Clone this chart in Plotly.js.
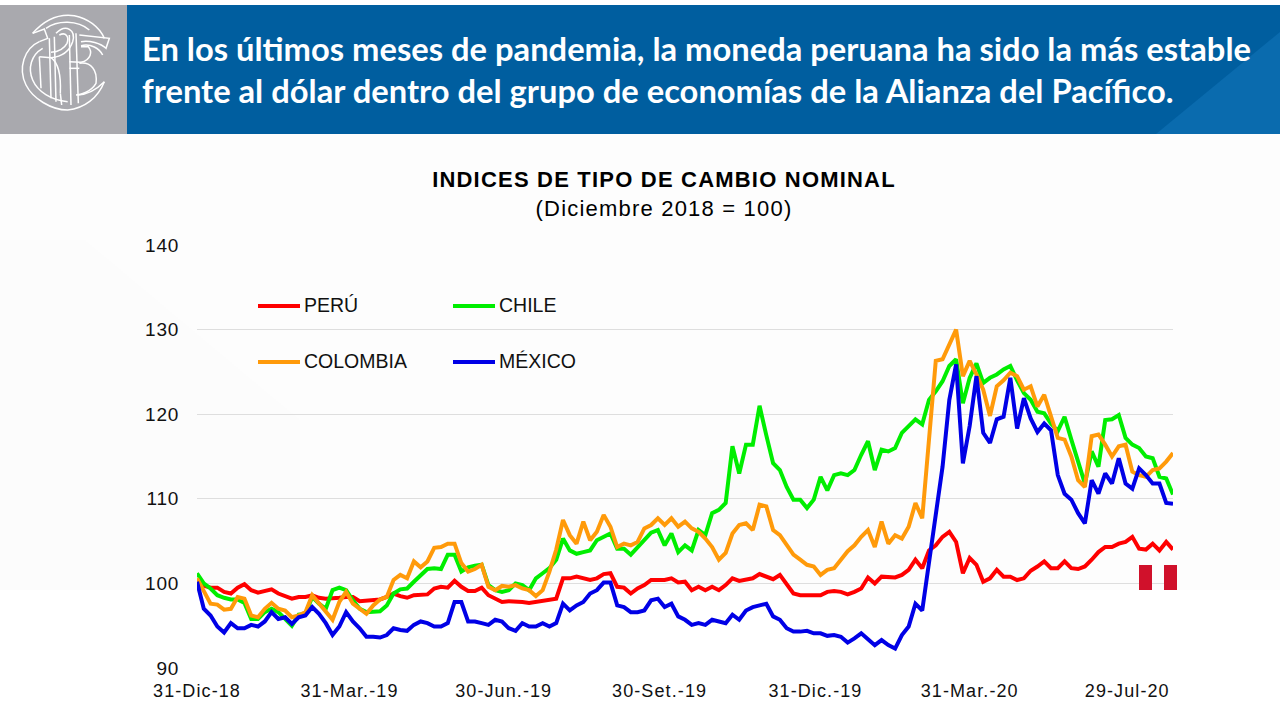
<!DOCTYPE html>
<html>
<head>
<meta charset="utf-8">
<script src="https://cdn.plot.ly/plotly-3.0.1.min.js"></script>
<style>
html,body{margin:0;padding:0;background:#fff}#chart{width:1280px;height:720px}
.xtick text{letter-spacing:1.1px}
.ytick text{letter-spacing:.8px}
.gtitle{letter-spacing:1.2px}
</style>
</head>
<body>
<div id="chart"></div>
<script>
// Index values sampled every 4 calendar days from 31-Dic-18
const peru = [100,99.8,99.5,99.5,99,98.8,99.5,99.9,99.2,98.9,99.1,99.3,98.8,98.5,98.2,98.4,98.4,98.6,98.3,98.2,98.2,98.3,98.4,98.4,97.9,98,98.1,98.1,98.4,98.8,98.5,98.3,98.6,98.7,98.7,99.4,99.6,99.5,100.3,99.6,99.1,99.1,99.5,98.6,98.2,97.8,97.9,
97.9,97.8,97.7,97.8,97.9,98,98.2,100.6,100.6,100.8,100.6,100.4,100.6,101.1,101.2,99.6,99.5,98.8,99.4,99.8,100.4,100.4,100.4,100.6,100.1,100.2,99.2,99.6,99.2,99.6,99.2,99.8,100.6,100.3,100.5,100.6,101.1,100.8,100.5,101,99.8,98.8,98.6,98.6,98.5,98.6,99,
99.1,99,98.7,99,99.4,100.7,100,100.8,100.8,100.7,101,101.6,102.8,101.8,103.9,104.5,105.5,106.1,104.9,101.2,103,102.2,100.2,100.6,101.6,
100.8,100.8,100.4,100.6,101.5,102,102.6,101.8,101.8,102.6,101.8,101.7,102,102.8,103.7,104.3,104.3,104.7,104.9,105.5,104.1,104,104.7,103.9,104.9,104];
const chile = [101.2,100,99.4,98.6,98.3,98.1,98.1,97.7,95.8,95.8,96.6,97,96.6,95.8,95,96.3,96.4,98.4,97.6,97,99.2,99.5,99.2,98,97,96.6,96.6,96.7,97.4,98.8,99.3,99.4,100.2,101,101.7,101.8,101.7,103.4,103.4,101.4,101.9,102.1,102.2,99.8,99.2,99,99.2,
100,99.8,99.2,100.6,101.2,101.8,102.8,105.3,103.9,103.5,103.7,103.9,105.1,105.5,105.9,104.1,104.1,103.4,104.3,105.1,106,106.3,104.5,105.9,103.7,104.5,103.9,106.3,105.7,108.3,108.7,109.5,116.2,113,116.4,116.4,121,117.5,114.2,113.4,111.4,109.9,109.9,108.9,109.9,112.6,111,
112.8,113,112.8,113.4,115.2,116.8,113.4,115.8,115.6,116,117.8,118.6,119.4,118.8,121.7,122.7,123.9,125.7,126.5,121.3,124.3,126,123.7,124.3,124.7,
125.3,125.7,124,122.5,121.7,120.3,120.1,118.9,118,119.7,117,114.2,111.8,115.6,113.8,119.3,119.4,119.9,117.2,116.4,116,115,114.8,112.6,112.4,110.5];
const colombia = [100.6,99.2,97.6,97.5,96.9,97,98.4,98.2,96.2,96,97,97.7,97,96.8,96,96.2,96.6,98.6,97.6,96.6,95.7,97.8,99,97.6,97,96.4,97.4,98.1,98.4,100.4,101,100.6,102.6,101.9,102.6,104.2,104.3,104.7,104.7,102.4,101.4,101.7,102.2,99.6,99.2,99.7,99.6,
99.8,99.4,99.2,98.5,99.2,101.4,104,107.5,105.7,104.7,107.3,105.1,106.1,108.1,106.7,104.3,104.7,104.5,104.9,106.5,106.9,107.7,106.9,107.7,106.7,107.3,106.5,106.1,105.3,104.3,102.8,103.6,105.9,106.9,107.1,106.3,109.3,109.1,106.3,105.7,104.5,103.4,102.8,102.2,102,101,101.6,
101.8,102.8,103.8,104.5,105.5,106.3,104.3,107.3,104.7,105.7,105.3,106.7,109.5,107.7,116.6,126.3,126.5,128.3,130,124.5,126.3,124.7,122.9,119.8,123.3,
124,124.9,124.5,122.9,123.3,120.9,122.3,119.7,117.2,117,115,112.2,111.4,117.4,117.6,116.4,115,116.2,116.4,113.2,112.8,112.6,113.4,113.6,114.4,115.4];
const mexico = [100.2,97,96.2,94.9,94.2,95.3,94.7,94.7,95.1,94.9,95.5,96.6,95.8,96,95.2,96,96.2,97.2,96.4,95.3,93.9,94.9,96.6,95.5,94.7,93.7,93.7,93.6,93.9,94.7,94.5,94.4,95.1,95.5,95.3,94.9,94.9,95.3,97.8,97.8,95.5,95.5,95.3,95.1,95.7,95.5,94.7,
94.4,95.3,94.9,94.9,95.3,94.9,95.3,97.6,96.8,97.4,97.8,98.8,99.2,100.1,100.1,97.4,97.2,96.6,96.6,96.8,98,98.2,97.2,97.6,96.1,95.7,95.1,95.3,95.1,95.7,95.5,95.3,96.3,95.7,96.8,97.2,97.4,97.6,96.1,95.7,94.7,94.3,94.3,94.4,94.1,94.1,93.8,
93.9,93.7,93,93.5,94.1,93.4,92.7,93.3,92.7,92.3,93.9,94.9,97.6,96.8,102.3,107.9,113.8,121.7,125.9,114.2,118.6,124.5,117.8,116.6,119.4,
119.7,124.3,118.3,121.9,119.5,117.9,118.9,118.1,112.8,110.6,109.9,108.3,107.1,112.2,110.6,113,111.8,114.8,111.8,111.2,113.6,112.8,111.8,111.8,109.5,109.4];

const seriesNames = ['PERÚ','CHILE','COLOMBIA','MÉXICO'];
const seriesValues = [peru, chile, colombia, mexico];
const seriesColors = ['#FF0000','#00EE00','#FF9A0A','#0000E6'];
const xTickDays = [0,90,181,273,365,456,549];
const xTickLabels = ['31-Dic-18','31-Mar.-19','30-Jun.-19','30-Set.-19','31-Dic.-19','31-Mar.-20','29-Jul-20'];
const yTicks = [90,100,110,120,130,140];
const chartTitle = 'INDICES DE TIPO DE CAMBIO NOMINAL';
const chartSubtitle = '(Diciembre 2018 = 100)';
const headerLines = ['En los últimos meses de pandemia, la moneda peruana ha sido la más estable',
                     'frente al dólar dentro del grupo de economías de la Alianza del Pacífico.'];

// Page geometry (px) -> paper fractions
const L=197,R=1173,T=245,B=668;
const fx=x=>(x-L)/(R-L), fy=y=>(B-y)/(B-T);
const pathOf=s=>s.replace(/(-?[\d.]+)[ ,](-?[\d.]+)/g,(m,a,b)=>fx(+a)+' '+fy(+b));
const rect=(x0,y0,x1,y1,color,layer)=>({type:'rect',xref:'paper',yref:'paper',x0:fx(x0),x1:fx(x1),y0:fy(y0),y1:fy(y1),fillcolor:color,line:{width:0},layer:layer||'below'});
const poly=(s,color)=>({type:'path',xref:'paper',yref:'paper',path:pathOf(s),fillcolor:color,line:{width:0},layer:'below'});
// logo strokes are written in a 3x logo space with its origin at (1,5)
const logoOf=s=>s.replace(/(-?[\d.]+) (-?[\d.]+)/g,(m,a,b)=>(1+a/3)+' '+(5+b/3));
const logoLine=s=>({type:'path',xref:'paper',yref:'paper',path:pathOf(logoOf(s)),line:{color:'#FFFFFF',width:1.5},layer:'below'});

const shapes=[
  // very faint watermark background
  rect(0,134,1280,590,'#FDFDFD'),
  poly('M0 240 L85 240 L300 420 L300 590 L0 590 Z','#FCFCFC'),
  rect(620,460,760,590,'#FBFBFB'),
  // header
  rect(0,5,127,134,'#A9A9AE'),
  rect(127,5,1280,134,'#005E9F'),
  poly('M1156 134 L1280 32 L1280 134 Z','#0A6BAE'),
  // logo monogram
  logoLine('M95 85 C130 45 170 25 220 32 C260 40 295 65 310 100'),
  logoLine('M135 70 C170 45 230 45 265 75'),
  logoLine('M95 85 L130 72 L140 100 L115 110'),
  logoLine('M115 110 C70 130 50 190 75 240 C95 280 150 315 200 315 C250 310 290 280 310 230'),
  logoLine('M125 130 C90 150 80 190 95 225 C110 260 150 285 200 290'),
  logoLine('M235 90 L325 100 L315 130 C300 115 265 105 240 110'),
  logoLine('M240 122 C270 115 295 130 305 150'),
  logoLine('M235 175 C270 170 290 195 285 235 C270 260 240 270 225 270'),
  logoLine('M240 125 L262 125 C275 140 270 165 240 172'),
  logoLine('M310 230 C290 250 260 268 230 270'),
  logoLine('M115 155 L120 250'),
  logoLine('M145 100 L150 280'),
  logoLine('M160 95 L165 290'),
  logoLine('M205 90 L210 300'),
  logoLine('M225 85 L232 295'),
  logoLine('M178 265 L182 300'),
  logoLine('M165 85 C195 55 225 75 215 110 C205 140 180 155 150 158'),
  logoLine('M175 90 C195 80 205 95 198 115 C190 130 175 140 150 142'),
  logoLine('M115 155 L150 158 C175 175 180 220 178 265'),
  logoLine('M205 170 L240 172'),
  logoLine('M205 190 L235 190')
];

// Peru flag mark
shapes.push(rect(1139,565,1152,590,'#D0112B','above'), rect(1164,565,1177,590,'#D0112B','above'));

// Legend rows drawn from the series names and colours
const legendPos=[[258,306],[453,306],[258,362],[453,362]];
const annotations=[];
seriesNames.forEach((n,i)=>{
  const [x,y]=legendPos[i];
  shapes.push({type:'line',xref:'paper',yref:'paper',x0:fx(x),x1:fx(x+42),y0:fy(y),y1:fy(y),line:{color:seriesColors[i],width:4},layer:'above'});
  annotations.push({xref:'paper',yref:'paper',x:fx(x+44),y:fy(y-1),xanchor:'left',yanchor:'middle',showarrow:false,text:n,
    font:{family:'Liberation Sans',size:19.5,color:'#111'}});
});
headerLines.forEach((t,i)=>annotations.push({xref:'paper',yref:'paper',x:fx(140),y:fy(48+i*42),xanchor:'left',yanchor:'middle',showarrow:false,text:'<b>'+t+'</b>',
  font:{family:'Lato',size:32.7,color:'#FFFFFF'}}));

const traces=seriesNames.map((n,i)=>({type:'scatter',mode:'lines',name:n,
  x:seriesValues[i].map((_,k)=>k*4),y:seriesValues[i],
  line:{color:seriesColors[i],width:4,shape:'linear'},cliponaxis:false}));

Plotly.newPlot('chart',traces,{
  width:1280,height:720,
  paper_bgcolor:'#FFFFFF',plot_bgcolor:'rgba(0,0,0,0)',
  margin:{l:L,r:1280-R,t:T,b:720-B,pad:0},
  showlegend:false,
  title:{text:'<b>'+chartTitle+'</b><br>'+chartSubtitle,x:664/1280,xanchor:'center',y:1-187/720,yanchor:'top',
    font:{family:'Liberation Sans',size:22,color:'#000'}},
  xaxis:{range:[0,576],tickvals:xTickDays,ticktext:xTickLabels,showgrid:false,zeroline:false,showline:false,
    ticks:'outside',ticklen:6,tickcolor:'rgba(0,0,0,0)',tickfont:{family:'Liberation Sans',size:18,color:'#111'},automargin:false},
  yaxis:{range:[90,140],tickvals:yTicks,showgrid:true,gridcolor:'#DEDEDE',gridwidth:1,zeroline:false,showline:false,
    ticks:'outside',ticklen:13,tickcolor:'rgba(0,0,0,0)',tickfont:{family:'Liberation Sans',size:19,color:'#111'},automargin:false},
  shapes,annotations
},{displayModeBar:false,staticPlot:true});
</script>
</body>
</html>
